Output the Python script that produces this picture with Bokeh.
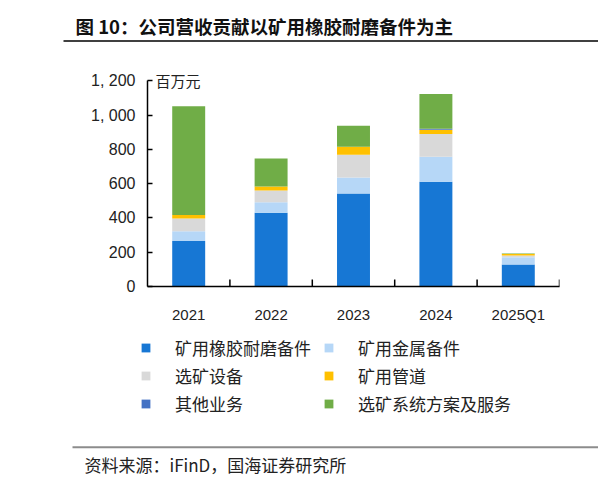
import math
from bokeh.plotting import figure
from bokeh.layouts import column
from bokeh.models import ColumnDataSource, Range1d, LinearAxis, FixedTicker, Label
from bokeh.embed import file_html
from bokeh.resources import INLINE

categories = ["2021", "2022", "2023", "2024", "2025Q1"]
rubber = [266, 430, 543, 611, 128]   # 矿用橡胶耐磨备件
metal = [57, 61, 93, 146, 42]        # 矿用金属备件
equip = [73, 69, 132, 132, 11]       # 选矿设备
pipe = [21, 23, 47, 26, 8]           # 矿用管道
other = [0, 0, 0, 5, 0]              # 其他业务
service = [634, 164, 123, 203, 3]    # 选矿系统方案及服务

names = ["矿用橡胶耐磨备件", "矿用金属备件", "选矿设备", "矿用管道", "其他业务", "选矿系统方案及服务"]
colors = ["#1777d4", "#b6d7f7", "#d9d9d9", "#ffc000", "#4472c4", "#70ad47"]
y_ticks = [0, 200, 400, 600, 800, 1000, 1200]

CJK = "Noto Sans CJK SC"
LATIN = "Liberation Sans"
W = 598


def blank(h):
    f = figure(width=W, height=h, output_backend="svg", toolbar_location=None,
               x_range=Range1d(0, W), y_range=Range1d(h, 0),
               x_axis_location=None, y_axis_location=None, min_border=0,
               frame_align=False)
    f.outline_line_color = None
    f.grid.visible = False
    return f


# header: title and rule
head = blank(50)
head.add_layout(Label(x=75, y=25, text="图 10：公司营收贡献以矿用橡胶耐磨备件为主",
                      text_font=CJK, text_font_size="18.5px", text_font_style="bold",
                      text_baseline="middle", text_color="#111111"))
head.segment(x0=63, y0=40.5, x1=W, y1=40.5, line_color="black", line_width=1.5)

# main chart
keys = ["rubber", "metal", "equip", "pipe", "other", "service"]
src = ColumnDataSource(dict(
    x=[i + 0.5 for i in range(len(categories))],
    rubber=rubber, metal=metal, equip=equip, pipe=pipe, other=other, service=service,
))

p = figure(width=W, height=275, output_backend="svg", toolbar_location=None,
           x_range=Range1d(0, len(categories)), y_range=Range1d(0, 1260),
           x_axis_location=None, y_axis_location=None, frame_align=False,
           min_border_left=147, min_border_right=39, min_border_top=20, min_border_bottom=32)
p.outline_line_color = None
p.grid.visible = False

p.vbar_stack(keys, x="x", width=0.4, fill_color=colors, line_color=None, source=src)

# separator ticks between categories, pointing up from the axis
p.scatter(x=list(range(1, len(categories) + 1)), y=[0] * len(categories),
          marker="dash", angle=math.pi / 2, size=14, line_color="black", line_width=1.5)

yaxis = LinearAxis(ticker=FixedTicker(ticks=y_ticks), bounds=(0, 1200))
yaxis.major_label_overrides = {1000: "1, 000", 1200: "1, 200"}
yaxis.major_tick_in = 5
yaxis.major_tick_out = 0
yaxis.minor_tick_line_color = None
yaxis.axis_line_color = "black"
yaxis.axis_line_width = 1.5
yaxis.major_tick_line_color = "black"
yaxis.major_tick_line_width = 1.5
yaxis.major_label_standoff = 12
yaxis.major_label_text_font = LATIN
yaxis.major_label_text_font_size = "16px"
yaxis.major_label_text_color = "#222222"
p.add_layout(yaxis, "left")

xlab = LinearAxis(ticker=FixedTicker(ticks=[i + 0.5 for i in range(len(categories))]))
xlab.major_label_overrides = {i + 0.5: c for i, c in enumerate(categories)}
xlab.axis_line_color = "black"
xlab.axis_line_width = 1.5
xlab.major_tick_line_color = None
xlab.minor_tick_line_color = None
xlab.major_label_standoff = 13
xlab.major_label_text_font = LATIN
xlab.major_label_text_font_size = "15px"
xlab.major_label_text_color = "#222222"
p.add_layout(xlab, "below")

p.add_layout(Label(x=0, y=1200, x_offset=8, text="百万元", text_font=CJK,
                   text_font_size="15px", text_baseline="middle", text_color="#222222"))

# legend and footer; legend swatches come from zero-height off-range renderers
foot = blank(161)
for name, color in zip(names, colors):
    foot.vbar(x=[-1000], top=[0], width=1, fill_color=color, line_color=None, legend_label=name)

leg = foot.legend[0]
leg.orientation = "horizontal"
leg.ncols = 2
leg.location = (140, 69)
leg.padding = 0
leg.margin = 0
leg.spacing = 0
leg.glyph_width = 11
leg.glyph_height = 11
leg.label_standoff = 24
leg.label_width = 148
leg.label_height = 28
leg.label_text_font = CJK
leg.label_text_font_size = "17px"
leg.label_text_color = "#222222"
leg.border_line_color = None
leg.background_fill_alpha = 0

foot.segment(x0=72, y0=121.7, x1=W, y1=121.7, line_color="#8c8c8c", line_width=2)
foot.add_layout(Label(x=84, y=139, text="资料来源：iFinD，国海证券研究所",
                      text_font=CJK, text_font_size="17px", text_baseline="middle",
                      text_color="#222222"))

layout = column(head, p, foot, spacing=0)
open("out.html", "w").write(file_html(layout, INLINE))
